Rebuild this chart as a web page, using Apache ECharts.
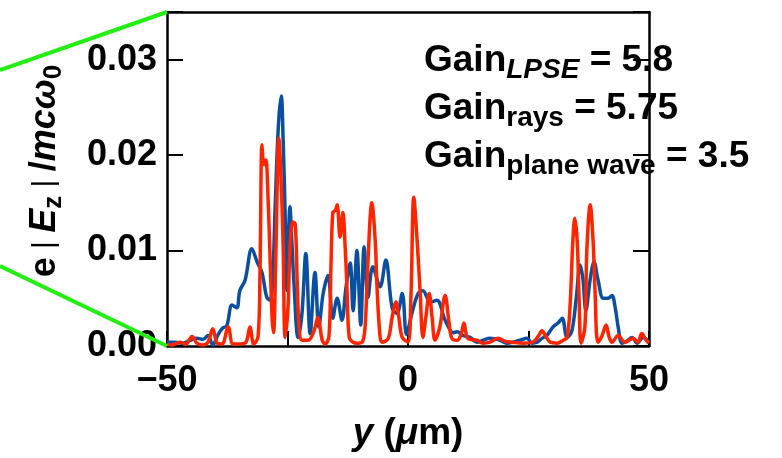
<!DOCTYPE html>
<html><head><meta charset="utf-8">
<script src="https://cdn.jsdelivr.net/npm/echarts@6/dist/echarts.min.js"></script>
<style>html,body{margin:0;padding:0;background:#fff}#c{width:782px;height:458px}</style>
</head><body><div id="c"></div>
<script>
// ---- data ----
const blueX = [-50.0,-48.3,-46.7,-45.2,-43.8,-42.5,-41.5,-40.5,-39.4,-38.4,-37.6,-36.5,-35.5,-34.9,-33.8,-32.4,-31.3,-30.3,-29.3,-28.6,-28.0,-27.6,-26.9,-26.3,-25.9,-25.5,-25.1,-24.5,-24.1,-23.7,-22.8,-22.0,-21.2,-20.3,-19.3,-18.5,-17.6,-16.6,-15.6,-14.7,-13.7,-12.9,-12.0,-11.4,-10.6,-9.8,-9.1,-8.3,-7.3,-5.8,-4.6,-3.3,-2.3,-1.2,-0.3,0.8,2.1,3.1,4.6,6.0,7.7,9.4,10.2,11.4,12.9,14.3,15.6,17.0,19.1,20.5,21.8,23.2,24.7,25.7,26.8,27.8,28.8,30.1,31.1,32.0,33.0,34.0,34.9,35.7,36.3,36.9,37.8,38.6,39.4,40.5,41.5,42.3,43.0,43.6,44.4,45.4,46.5,47.5,48.8,50.0];
const blueY = [0.0004,0.0004,0.0003,0.0006,0.0008,0.0007,0.0011,0.0001,0.0012,0.0019,0.0021,0.0043,0.0040,0.0058,0.0069,0.0102,0.0088,0.0077,0.0051,0.0048,0.0080,0.0140,0.0230,0.0262,0.0215,0.0140,0.0058,0.0146,0.0110,0.0069,0.0009,0.0034,0.0097,0.0013,0.0077,0.0020,0.0055,0.0074,0.0029,0.0050,0.0027,0.0060,0.0087,0.0037,0.0100,0.0022,0.0104,0.0051,0.0083,0.0062,0.0090,0.0040,0.0034,0.0055,0.0012,0.0034,0.0055,0.0058,0.0046,0.0048,0.0027,0.0014,0.0015,0.0011,0.0009,0.0004,0.0006,0.0008,0.0006,0.0003,0.0004,0.0006,0.0008,0.0003,0.0004,0.0008,0.0011,0.0020,0.0024,0.0029,0.0009,0.0016,0.0050,0.0085,0.0070,0.0037,0.0070,0.0088,0.0070,0.0050,0.0050,0.0053,0.0040,0.0020,0.0003,0.0005,0.0009,0.0003,0.0009,0.0004];
const redX = [-50.0,-49.0,-47.3,-46.1,-44.8,-43.8,-42.5,-41.5,-40.5,-39.6,-38.6,-37.3,-36.3,-34.9,-33.6,-32.8,-32.0,-31.1,-30.7,-30.3,-29.9,-29.5,-29.0,-28.6,-28.2,-27.9,-27.4,-26.8,-26.3,-25.9,-25.5,-24.9,-24.5,-23.9,-23.4,-23.0,-22.6,-22.0,-20.7,-19.5,-18.7,-17.8,-17.2,-16.4,-16.0,-15.6,-15.1,-14.7,-14.1,-13.5,-13.1,-12.7,-12.2,-11.4,-10.4,-9.5,-8.9,-8.3,-7.5,-6.8,-6.4,-5.8,-5.4,-4.1,-3.3,-2.5,-1.9,-1.2,0.0,0.6,1.2,1.9,2.5,3.1,3.7,4.4,5.0,5.6,6.6,7.7,8.5,9.1,10.2,11.0,11.6,12.4,14.3,15.6,17.0,18.7,20.1,21.6,23.9,25.9,27.0,27.8,28.6,29.5,30.9,32.2,33.0,33.6,34.2,34.6,35.1,35.5,35.9,36.7,37.1,37.8,38.4,38.8,39.4,40.2,41.1,41.7,42.3,43.6,45.0,46.7,47.7,48.5,49.4,50.0];
const redY = [0.0002,0.0001,0.0004,0.0002,0.0010,0.0003,0.0001,0.0004,0.0018,0.0003,0.0002,0.0020,0.0002,0.0002,0.0004,0.0020,0.0002,0.0010,0.0080,0.0211,0.0190,0.0195,0.0150,0.0090,0.0030,0.0014,0.0100,0.0218,0.0170,0.0104,0.0009,0.0040,0.0100,0.0130,0.0128,0.0070,0.0020,0.0006,0.0006,0.0016,0.0030,0.0006,0.0002,0.0010,0.0080,0.0140,0.0142,0.0148,0.0114,0.0140,0.0110,0.0066,0.0009,0.0004,0.0003,0.0004,0.0020,0.0090,0.0150,0.0110,0.0058,0.0010,0.0004,0.0008,0.0030,0.0046,0.0030,0.0009,0.0004,0.0050,0.0156,0.0110,0.0058,0.0009,0.0030,0.0055,0.0030,0.0006,0.0020,0.0053,0.0025,0.0008,0.0006,0.0012,0.0024,0.0008,0.0006,0.0003,0.0004,0.0008,0.0005,0.0004,0.0003,0.0004,0.0010,0.0016,0.0010,0.0004,0.0003,0.0006,0.0009,0.0040,0.0110,0.0134,0.0110,0.0050,0.0003,0.0020,0.0100,0.0148,0.0110,0.0058,0.0004,0.0010,0.0022,0.0010,0.0004,0.0011,0.0004,0.0008,0.0004,0.0013,0.0006,0.0003];
const xTickLabels = [-50, 0, 50];
const yTickLabels = [0, 0.01, 0.02, 0.03];
const gainNames = ['LPSE', 'rays', 'plane wave'];
const gainValues = ['5.8', '5.75', '3.5'];

const FONT = "'Liberation Sans', Arial, Helvetica, sans-serif";
const toPairs = (xs, ys) => xs.map((x, i) => [x, ys[i]]);

const chart = echarts.init(document.getElementById('c'), null, {renderer: 'canvas'});
const axisLineStyle = {color: '#000', width: 2.5};
const option = {
  animation: false,
  backgroundColor: '#fff',
  grid: {left: 167, right: 133, top: 12, bottom: 112, containLabel: false},
  xAxis: [{
    type: 'value', min: -50, max: 50, interval: 25,
    axisLine: {show: true, onZero: false, lineStyle: axisLineStyle},
    axisTick: {show: true, inside: true, length: 15, lineStyle: {color: '#000', width: 2}},
    splitLine: {show: false},
    axisLabel: {
      margin: 17, color: '#000', fontFamily: FONT, fontWeight: 'bold', fontSize: 36,
      formatter: v => xTickLabels.includes(v) ? (v < 0 ? '\u2212' + Math.abs(v) : String(v)) : ''
    },
    name: '{i|y} ({i|\u03bc}m)', nameLocation: 'middle', nameGap: 69,
    nameTextStyle: {color: '#000', fontFamily: FONT, fontWeight: 'bold', fontSize: 37,
      rich: {i: {fontStyle: 'italic', fontWeight: 'bold', fontFamily: FONT, fontSize: 37, color: '#000'}}}
  }, {
    type: 'value', min: -50, max: 50, position: 'top',
    axisLine: {show: true, onZero: false, lineStyle: axisLineStyle},
    axisTick: {show: false}, axisLabel: {show: false}, splitLine: {show: false}
  }],
  yAxis: [{
    type: 'value', min: 0, max: 0.035, interval: 0.01,
    axisLine: {show: true, onZero: false, lineStyle: axisLineStyle},
    axisTick: {show: true, inside: true, length: 16, lineStyle: {color: '#000', width: 2}},
    splitLine: {show: false},
    axisLabel: {
      margin: 10, color: '#000', fontFamily: FONT, fontWeight: 'bold', fontSize: 36,
      formatter: v => {
        const m = yTickLabels.find(t => Math.abs(t - v) < 1e-9);
        return m === undefined ? '' : m.toFixed(2);
      }
    },
    name: 'e{t| | }{i|E}{s|z}{t| | }/{i|mc\u03c9}{s|0}', nameLocation: 'middle', nameRotate: 90, nameGap: 100,
    nameTextStyle: {color: '#000', fontFamily: FONT, fontWeight: 'bold', fontSize: 36, padding: [0, 0, 0, 16],
      rich: {
        i: {fontStyle: 'italic', fontWeight: 'bold', fontFamily: FONT, fontSize: 36, color: '#000'},
        s: {fontWeight: 'bold', fontFamily: FONT, fontSize: 26, color: '#000', padding: [18, 0, 0, 0]},
        t: {fontWeight: 'normal', fontFamily: FONT, fontSize: 30, color: '#000'}
      }}
  }, {
    type: 'value', min: 0, max: 0.035, interval: 0.01, position: 'right',
    axisLine: {show: true, onZero: false, lineStyle: axisLineStyle},
    axisTick: {show: true, inside: true, length: 16, lineStyle: {color: '#000', width: 2}},
    axisLabel: {show: false}, splitLine: {show: false}
  }],
  series: [{
    type: 'line', name: 'blue', data: toPairs(blueX, blueY), showSymbol: false, symbol: 'none',
    smooth: 0.35, clip: true, lineStyle: {color: '#0b50a0', width: 3.5}, z: 2
  }, {
    type: 'line', name: 'red', data: toPairs(redX, redY), showSymbol: false, symbol: 'none',
    smooth: 0.35, clip: true, lineStyle: {color: '#ff2400', width: 3.5}, z: 3
  }]
};
chart.setOption(option);

const tl = chart.convertToPixel({gridIndex: 0}, [-50, 0.035]);
const bl = chart.convertToPixel({gridIndex: 0}, [-50, 0]);
const gainTexts = gainNames.map((n, i) => ({
  type: 'text', left: 424, top: 42 + i * 48, z: 10,
  style: {
    text: 'Gain{' + (i === 0 ? 'si' : 's') + '|' + n + '} = ' + gainValues[i],
    fill: '#000', font: 'bold 37px ' + FONT,
    rich: {
      s: {fontWeight: 'bold', fontFamily: FONT, fontSize: 28, fill: '#000', padding: [20, 0, 0, 0]},
      si: {fontWeight: 'bold', fontStyle: 'italic', fontFamily: FONT, fontSize: 28, fill: '#000', padding: [20, 0, 0, 0]}
    }
  }
}));
chart.setOption({graphic: [
  {type: 'line', z: 20, shape: {x1: 0, y1: 70, x2: tl[0], y2: tl[1]}, style: {stroke: '#22ee11', lineWidth: 4}},
  {type: 'line', z: 20, shape: {x1: 0, y1: 266, x2: bl[0], y2: bl[1]}, style: {stroke: '#22ee11', lineWidth: 4}}
].concat(gainTexts)});
</script></body></html>
